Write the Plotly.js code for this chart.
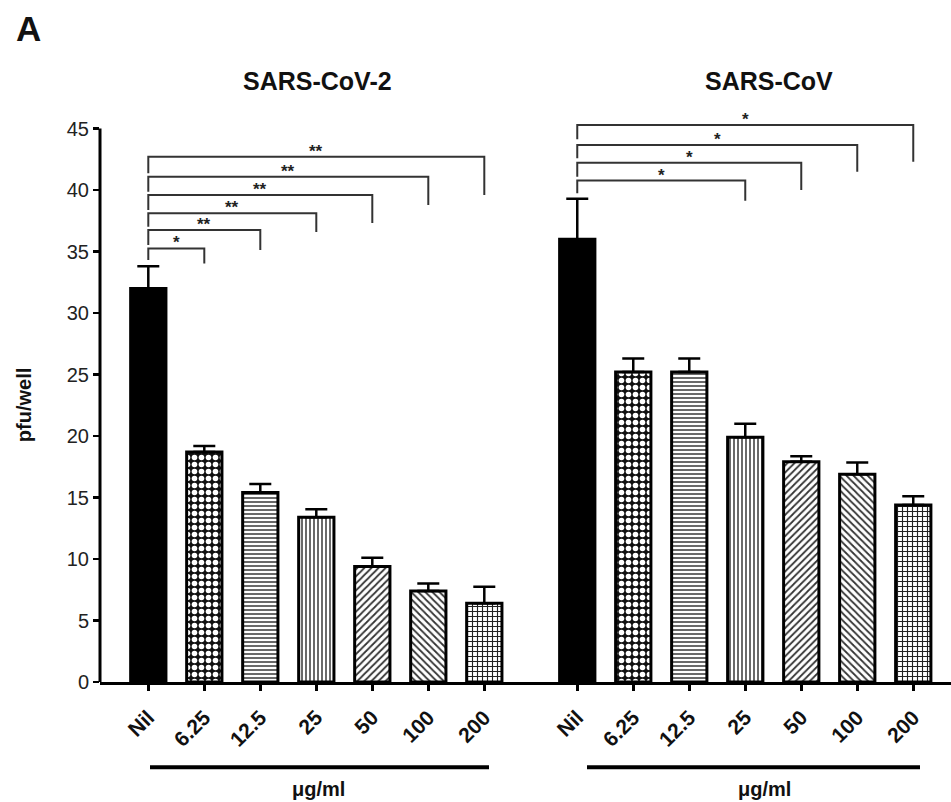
<!DOCTYPE html>
<html>
<head>
<meta charset="utf-8">
<script src="https://cdn.plot.ly/plotly-3.0.1.min.js"></script>
<style>html,body{margin:0;padding:0;background:#fff;}#chart{width:951px;height:802px;}</style>
</head>
<body>
<div id="chart"></div>
<script>
// ---- data ----
const categories = ['Nil', '6.25', '12.5', '25', '50', '100', '200'];
const panelTitles = ['SARS-CoV-2', 'SARS-CoV'];
const unitLabel = 'μg/ml';
const yTitle = 'pfu/well';

const cov2Values = [32, 18.7, 15.4, 13.4, 9.4, 7.4, 6.4];
const cov2Errors = [1.8, 0.5, 0.7, 0.65, 0.7, 0.6, 1.35];
const covValues  = [36, 25.2, 25.2, 19.9, 17.9, 16.9, 14.4];
const covErrors  = [3.3, 1.1, 1.1, 1.1, 0.45, 0.95, 0.7];

// significance brackets (Nil vs target index)
const cov2SigTargets  = [1, 2, 3, 4, 5, 6];
const cov2SigLabels   = ['*', '**', '**', '**', '**', '**'];
const cov2SigLineY    = [35.26, 36.75, 38.11, 39.6, 41.09, 42.72];
const cov2SigLeftEnd  = [34.31, 35.53, 37.02, 38.38, 39.87, 41.37];
const cov2SigRightEnd = [34.04, 35.13, 36.59, 37.32, 38.79, 39.6];

const covSigTargets  = [3, 4, 5, 6];
const covSigLabels   = ['*', '*', '*', '*'];
const covSigLineY    = [40.77, 42.23, 43.66, 45.29];
const covSigLeftEnd  = [39.74, 41.09, 42.59, 44.13];
const covSigRightEnd = [39.14, 40.0, 41.5, 42.31];

// ---- layout helpers ----
const W = 951, H = 802;
const mL = 100, mR = 0, mT = 104, mB = 120.3;
const plotW = W - mL - mR, plotH = H - mT - mB;
const panelGap = 7.66;               // offset of second panel on the shared x axis
const xRange = [-0.8625, 14.334];
const yRange = [0, 47];
const px2paperX = p => (p - mL) / plotW;
const px2paperY = p => (H - mB - p) / plotH;

const xLeft = categories.map((c, i) => i);
const xRight = categories.map((c, i) => i + panelGap);

// bar fill styles per concentration
const barStyles = [
  {color: '#000', pattern: {shape: ''}},
  {color: '#111', pattern: {shape: '.', fgcolor: '#fff', bgcolor: '#111', size: 7, solidity: 0.5, fillmode: 'replace'}},
  {color: '#fff', pattern: {shape: '-', fgcolor: '#444', bgcolor: '#fff', size: 4, solidity: 0.4, fillmode: 'replace'}},
  {color: '#fff', pattern: {shape: '|', fgcolor: '#444', bgcolor: '#fff', size: 4, solidity: 0.4, fillmode: 'replace'}},
  {color: '#fff', pattern: {shape: '/', fgcolor: '#333', bgcolor: '#fff', size: 5, solidity: 0.35, fillmode: 'replace'}},
  {color: '#fff', pattern: {shape: '\\', fgcolor: '#333', bgcolor: '#fff', size: 5, solidity: 0.35, fillmode: 'replace'}},
  {color: '#fff', pattern: {shape: '+', fgcolor: '#222', bgcolor: '#fff', size: 5, solidity: 0.4, fillmode: 'replace'}}
];

const traces = [];
function addBars(xs, vals, errs) {
  vals.forEach((v, i) => {
    const st = barStyles[i];
    traces.push({
      type: 'bar', x: [xs[i]], y: [v], width: 0.63, name: categories[i],
      marker: {color: st.color, line: {color: '#000', width: 3}, pattern: st.pattern},
      error_y: {type: 'data', symmetric: false, array: [errs[i]], arrayminus: [0],
                color: '#000', thickness: 2.5, width: 11},
      showlegend: false
    });
  });
}
addBars(xLeft, cov2Values, cov2Errors);
addBars(xRight, covValues, covErrors);

const shapes = [];
const annotations = [];
function addBrackets(xs, targets, labels, lineY, leftEnd, rightEnd) {
  targets.forEach((t, k) => {
    const x0 = xs[0], x1 = xs[t];
    shapes.push({type: 'path', xref: 'x', yref: 'y',
      path: `M ${x0},${leftEnd[k]} L ${x0},${lineY[k]} L ${x1},${lineY[k]} L ${x1},${rightEnd[k]}`,
      line: {color: '#333', width: 2}});
    annotations.push({xref: 'x', yref: 'y', x: (x0 + x1) / 2, y: lineY[k], text: labels[k],
      showarrow: false, yanchor: 'bottom', yshift: -6,
      font: {family: 'Liberation Sans, Arial, sans-serif', size: 17, color: '#222', weight: 'bold'}});
  });
}
addBrackets(xLeft, cov2SigTargets, cov2SigLabels, cov2SigLineY, cov2SigLeftEnd, cov2SigRightEnd);
addBrackets(xRight, covSigTargets, covSigLabels, covSigLineY, covSigLeftEnd, covSigRightEnd);

// y axis line from 0 to 45
shapes.push({type: 'line', xref: 'paper', yref: 'y', x0: 0, x1: 0, y0: 0, y1: 45,
  line: {color: '#000', width: 3}});
// unit underline bars
shapes.push({type: 'line', xref: 'paper', yref: 'paper', x0: px2paperX(150), x1: px2paperX(489),
  y0: px2paperY(767), y1: px2paperY(767), line: {color: '#000', width: 4}});
shapes.push({type: 'line', xref: 'paper', yref: 'paper', x0: px2paperX(587), x1: px2paperX(920),
  y0: px2paperY(767), y1: px2paperY(767), line: {color: '#000', width: 4}});

const boldFont = (s) => ({family: 'Liberation Sans, Arial, sans-serif', size: s, color: '#111', weight: 'bold'});
annotations.push({xref: 'paper', yref: 'paper', x: px2paperX(317.5), y: px2paperY(81), text: panelTitles[0],
  showarrow: false, xanchor: 'center', yanchor: 'middle', font: boldFont(25)});
annotations.push({xref: 'paper', yref: 'paper', x: px2paperX(769), y: px2paperY(81.5), text: panelTitles[1],
  showarrow: false, xanchor: 'center', yanchor: 'middle', font: boldFont(25)});
annotations.push({xref: 'paper', yref: 'paper', x: px2paperX(318), y: px2paperY(789), text: unitLabel,
  showarrow: false, xanchor: 'center', yanchor: 'middle', font: boldFont(20)});
annotations.push({xref: 'paper', yref: 'paper', x: px2paperX(764), y: px2paperY(789), text: unitLabel,
  showarrow: false, xanchor: 'center', yanchor: 'middle', font: boldFont(20)});
annotations.push({xref: 'paper', yref: 'paper', x: px2paperX(24), y: px2paperY(405), text: yTitle,
  textangle: -90, showarrow: false, xanchor: 'center', yanchor: 'middle', font: boldFont(20)});
annotations.push({xref: 'paper', yref: 'paper', x: px2paperX(14), y: px2paperY(29), text: 'A',
  showarrow: false, xanchor: 'left', yanchor: 'middle', font: boldFont(35)});

const layout = {
  width: W, height: H,
  margin: {l: mL, r: mR, t: mT, b: mB, pad: 0},
  paper_bgcolor: '#fff', plot_bgcolor: '#fff',
  barmode: 'overlay',
  showlegend: false,
  xaxis: {
    range: xRange, tickvals: xLeft.concat(xRight), ticktext: categories.concat(categories),
    tickangle: -45, ticks: 'outside', ticklen: 6, tickwidth: 2.5, tickcolor: '#000',
    ticklabelstandoff: 6,
    showline: true, linecolor: '#000', linewidth: 3, showgrid: false, zeroline: false,
    tickfont: {family: 'Liberation Sans, Arial, sans-serif', size: 21, color: '#111', weight: 'bold'},
    fixedrange: true
  },
  yaxis: {
    range: yRange, tick0: 0, dtick: 5, ticks: 'outside', ticklen: 6, tickwidth: 2.5, tickcolor: '#000',
    showline: false, showgrid: false, zeroline: false,
    tickfont: {family: 'Liberation Sans, Arial, sans-serif', size: 20, color: '#222'},
    fixedrange: true
  },
  shapes: shapes,
  annotations: annotations
};

Plotly.newPlot('chart', traces, layout, {displayModeBar: false, staticPlot: true});
</script>
</body>
</html>
